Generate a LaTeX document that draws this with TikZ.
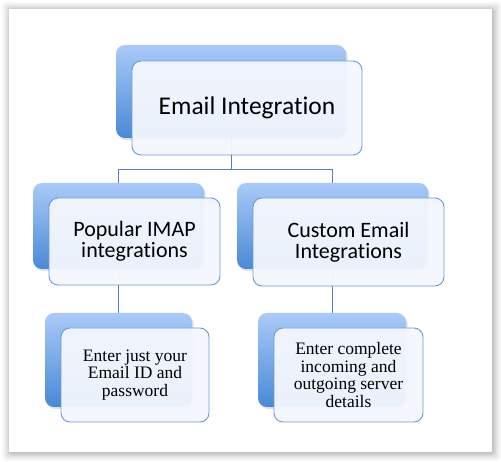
\documentclass[tikz,border=0pt]{standalone}
\usepackage{fontspec}
\newfontfamily\boxsans[Ligatures={NoCommon}]{Carlito}
\newfontfamily\boxserif{Liberation Serif}
\usetikzlibrary{shadows}
\definecolor{backtop}{RGB}{170,202,249}
\definecolor{backbot}{RGB}{72,137,214}
\definecolor{frontfill}{RGB}{244,247,253}
\definecolor{frontline}{RGB}{108,156,212}
\definecolor{linkline}{RGB}{88,128,178}
\begin{document}
\begin{tikzpicture}[x=1pt, y=-1pt,
  backbox/.style={rounded corners=9pt, top color=backtop, bottom color=backbot, draw=none,
    inner sep=0pt, drop shadow={shadow xshift=1.5pt, shadow yshift=-2pt, opacity=0.25}},
  frontbox/.style={rounded corners=9pt, fill=frontfill, fill opacity=0.95, text opacity=1,
    draw=frontline, line width=0.9pt, inner sep=0pt, align=center},
  link/.style={draw=linkline, line width=0.9pt}]
\useasboundingbox (0,0) rectangle (501,462);

% page frame with soft shadow
\foreach \d/\o in {8/0.03, 6/0.04, 4/0.05, 2.5/0.06, 1/0.07}
  \fill[black, opacity=\o, rounded corners=3pt] (9-\d+1,9-\d+1) rectangle (492+\d+1,452+\d+1);
\fill[white] (9,9) rectangle (492,452);

% connectors (behind the boxes)
\coordinate (split) at (231,169);
\coordinate (topdrop) at (231,138);
\coordinate (leftdrop) at (118.5,269);
\coordinate (rightdrop) at (332.5,269);
\draw[link] (topdrop) -- (split);
\draw[link] (split) -| (118.5,183);
\draw[link] (split) -| (332.5,183);
\draw[link] (leftdrop) -- (118.5,313);
\draw[link] (rightdrop) -- (332.5,313);

% back boxes
\node[backbox, minimum width=230pt, minimum height=93pt] (mainb) at (231,91.5) {};
\node[backbox, minimum width=171pt, minimum height=86pt] (imapb) at (118.5,226) {};
\node[backbox, minimum width=191pt, minimum height=86pt] (customb) at (332.5,226) {};
\node[backbox, minimum width=147pt, minimum height=94pt] (justb) at (118.5,360) {};
\node[backbox, minimum width=148pt, minimum height=94pt] (fullb) at (332,360) {};

% front boxes
\node[frontbox, minimum width=230pt, minimum height=94pt, font=\boxsans\fontsize{25.5}{29}\selectfont] (main) at (247,108) {Email Integration};
\node[frontbox, minimum width=171pt, minimum height=87pt, font=\boxsans\fontsize{22}{21}\selectfont] (imap) at (134.5,241.5) {Popular IMAP\\integrations};
\node[frontbox, minimum width=191pt, minimum height=88pt, font=\boxsans\fontsize{22}{21}\selectfont] (custom) at (348.5,242) {Custom Email\\Integrations};
\node[frontbox, minimum width=148pt, minimum height=94pt, font=\boxserif\fontsize{17.5}{17.5}\selectfont] (just) at (135,375) {Enter just your\\Email ID and\\password};
\node[frontbox, minimum width=149pt, minimum height=94pt, font=\boxserif\fontsize{17.5}{17.5}\selectfont] (full) at (348.5,375) {Enter complete\\incoming and\\outgoing server\\details};
\end{tikzpicture}
\end{document}
